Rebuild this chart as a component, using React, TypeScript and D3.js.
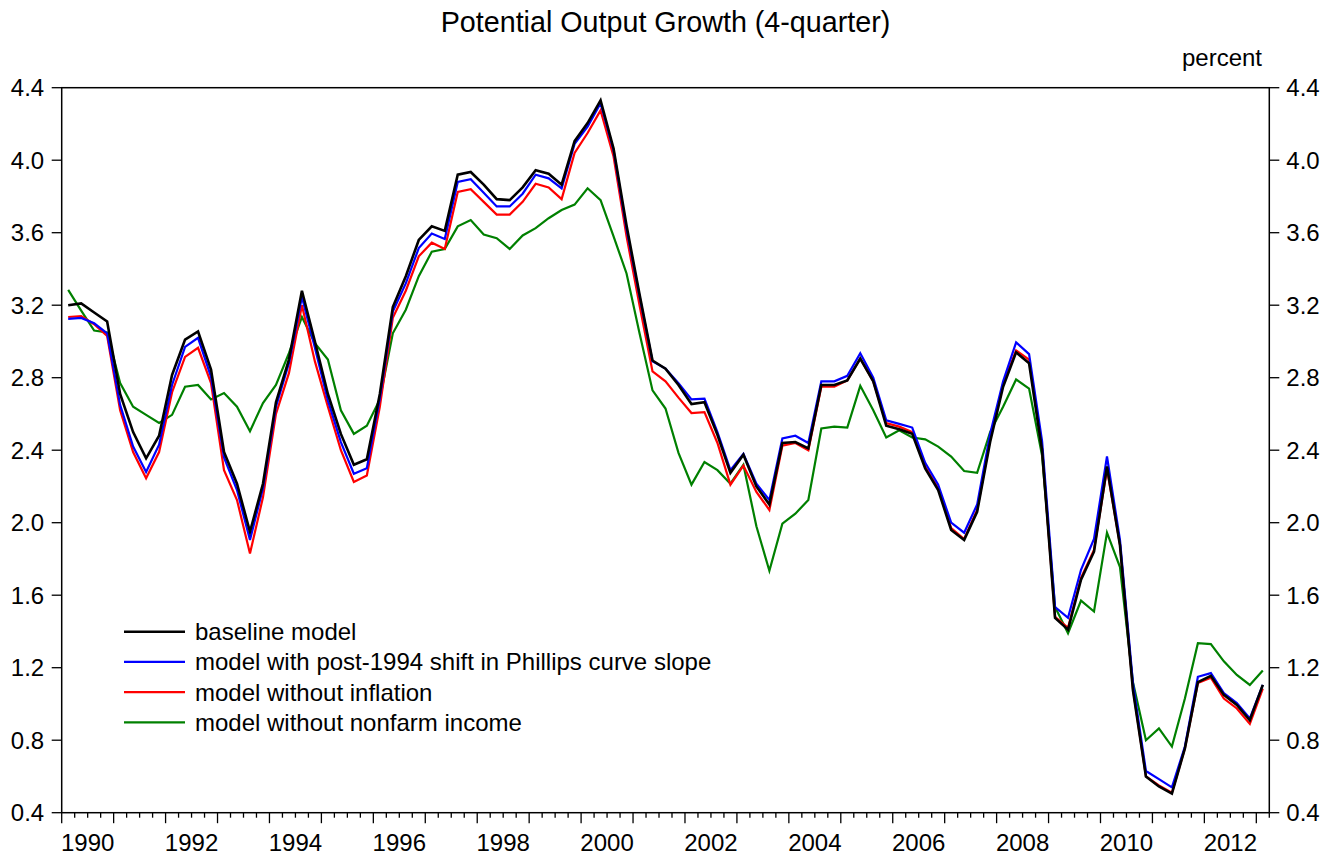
import React from "react";
import * as d3 from "d3";

const START_YEAR = 1990;
const N_SLOTS = 93;

const baseline = [
  3.20, 3.21, 3.16, 3.11, 2.71, 2.50, 2.355, 2.48, 2.815, 3.01, 3.055, 2.845,
  2.39, 2.215, 1.95, 2.215, 2.665, 2.90, 3.28, 3.00, 2.71, 2.49, 2.32, 2.35,
  2.71, 3.19, 3.36, 3.56, 3.635, 3.61, 3.92, 3.935, 3.865, 3.785, 3.78, 3.85,
  3.945, 3.925, 3.865, 4.105, 4.205, 4.33, 4.065, 3.64, 3.26, 2.895, 2.85, 2.76,
  2.655, 2.665, 2.485, 2.275, 2.375, 2.20, 2.10, 2.44, 2.445, 2.41, 2.76, 2.76,
  2.785, 2.905, 2.78, 2.535, 2.515, 2.49, 2.30, 2.18, 1.96, 1.905, 2.06, 2.445,
  2.75, 2.94, 2.88, 2.40, 1.475, 1.41, 1.685, 1.84, 2.31, 1.875, 1.075, 0.60,
  0.545, 0.505, 0.755, 1.12, 1.155, 1.05, 0.995, 0.91, 1.105,
];

const phillipsShift = [
  3.125, 3.13, 3.10, 3.045, 2.65, 2.42, 2.28, 2.43, 2.76, 2.97, 3.02, 2.805,
  2.36, 2.18, 1.905, 2.19, 2.64, 2.88, 3.245, 2.965, 2.675, 2.445, 2.27, 2.30,
  2.685, 3.165, 3.32, 3.515, 3.595, 3.565, 3.88, 3.895, 3.82, 3.745, 3.745, 3.815,
  3.92, 3.90, 3.845, 4.09, 4.185, 4.315, 4.055, 3.62, 3.25, 2.89, 2.85, 2.77,
  2.68, 2.685, 2.50, 2.29, 2.38, 2.215, 2.125, 2.465, 2.48, 2.44, 2.78, 2.78,
  2.81, 2.935, 2.80, 2.565, 2.545, 2.525, 2.33, 2.21, 2.00, 1.945, 2.10, 2.49,
  2.78, 2.995, 2.93, 2.45, 1.535, 1.475, 1.74, 1.91, 2.365, 1.905, 1.115, 0.63,
  0.585, 0.54, 0.765, 1.15, 1.17, 1.06, 1.005, 0.92, 1.105,
];

const noInflation = [
  3.135, 3.14, 3.095, 3.03, 2.62, 2.39, 2.245, 2.39, 2.72, 2.915, 2.965, 2.77,
  2.29, 2.125, 1.83, 2.14, 2.60, 2.825, 3.20, 2.89, 2.64, 2.40, 2.225, 2.26,
  2.64, 3.13, 3.28, 3.47, 3.545, 3.51, 3.825, 3.84, 3.77, 3.70, 3.70, 3.77,
  3.87, 3.85, 3.785, 4.04, 4.15, 4.275, 4.02, 3.58, 3.20, 2.835, 2.78, 2.69,
  2.605, 2.61, 2.44, 2.21, 2.315, 2.17, 2.07, 2.425, 2.44, 2.40, 2.75, 2.75,
  2.785, 2.905, 2.78, 2.55, 2.53, 2.50, 2.31, 2.19, 1.97, 1.91, 2.07, 2.46,
  2.765, 2.95, 2.90, 2.41, 1.48, 1.42, 1.695, 1.85, 2.295, 1.88, 1.085, 0.60,
  0.55, 0.51, 0.755, 1.115, 1.145, 1.03, 0.975, 0.89, 1.085,
];

const noNonfarm = [
  3.285, 3.17, 3.06, 3.05, 2.77, 2.64, 2.595, 2.55, 2.595, 2.75, 2.76, 2.68,
  2.715, 2.64, 2.505, 2.66, 2.76, 2.935, 3.135, 2.99, 2.90, 2.62, 2.49, 2.535,
  2.68, 3.045, 3.175, 3.36, 3.495, 3.51, 3.635, 3.67, 3.59, 3.57, 3.51, 3.585,
  3.625, 3.68, 3.725, 3.755, 3.845, 3.78, 3.58, 3.375, 3.045, 2.73, 2.63, 2.385,
  2.21, 2.335, 2.29, 2.215, 2.32, 1.98, 1.735, 1.995, 2.05, 2.125, 2.52, 2.53,
  2.525, 2.755, 2.62, 2.47, 2.51, 2.47, 2.46, 2.42, 2.365, 2.285, 2.275, 2.50,
  2.64, 2.79, 2.74, 2.37, 1.535, 1.39, 1.57, 1.51, 1.945, 1.755, 1.12, 0.80,
  0.865, 0.765, 1.03, 1.335, 1.33, 1.235, 1.16, 1.105, 1.185,
];

const yTicks = [0.4, 0.8, 1.2, 1.6, 2.0, 2.4, 2.8, 3.2, 3.6, 4.0, 4.4];
const yearLabels = [1990, 1992, 1994, 1996, 1998, 2000, 2002, 2004, 2006, 2008, 2010, 2012];

const seriesList = [
  { name: "baseline model", color: "#000000", width: 2.6, data: baseline },
  { name: "model with post-1994 shift in Phillips curve slope", color: "#0000ff", width: 2.2, data: phillipsShift },
  { name: "model without inflation", color: "#ff0000", width: 2.2, data: noInflation },
  { name: "model without nonfarm income", color: "#008000", width: 2.2, data: noNonfarm },
];

const FONT = "'Liberation Sans', Arial, Helvetica, sans-serif";

export default function App() {
  const W = 1338;
  const H = 857;
  const left = 61.7;
  const right = 1269.3;
  const top = 87.7;
  const bottom = 812.7;
  const fs = 24;

  const x = d3.scaleLinear().domain([0, N_SLOTS]).range([left, right]);
  const y = d3.scaleLinear().domain([0.4, 4.4]).range([bottom, top]);

  const line = d3
    .line<number>()
    .x((_, i) => x(i + 0.5))
    .y((d) => y(d));

  const quarterTicks = d3.range(0, N_SLOTS + 1);
  const drawOrder = [3, 2, 1, 0];

  return (
    <svg
      width={W}
      height={H}
      viewBox={`0 0 ${W} ${H}`}
      style={{ position: "absolute", left: 0, top: 0, background: "#fff" }}
      fontFamily={FONT}
    >
      <rect x={0} y={0} width={W} height={H} fill="#ffffff" />
      <text x={665.5} y={32} textAnchor="middle" fontSize={28.7} fill="#000">
        Potential Output Growth (4-quarter)
      </text>
      <text x={1262} y={66} textAnchor="end" fontSize={fs} fill="#000">
        percent
      </text>

      {/* y ticks & labels */}
      {yTicks.map((t) => (
        <g key={t}>
          <line x1={left - 10} x2={left} y1={y(t)} y2={y(t)} stroke="#000" strokeWidth={1.3} />
          <line x1={right} x2={right + 10} y1={y(t)} y2={y(t)} stroke="#000" strokeWidth={1.3} />
          <text x={left - 17.5} y={y(t) + 8.5} textAnchor="end" fontSize={fs} fill="#000">
            {t.toFixed(1)}
          </text>
          <text x={right + 17} y={y(t) + 8.5} textAnchor="start" fontSize={fs} fill="#000">
            {t.toFixed(1)}
          </text>
        </g>
      ))}

      {/* x ticks */}
      {quarterTicks.map((q) => (
        <line
          key={q}
          x1={x(q)}
          x2={x(q)}
          y1={bottom}
          y2={bottom + (q % 4 === 0 ? 10.5 : 5)}
          stroke="#000"
          strokeWidth={1.3}
        />
      ))}
      {yearLabels.map((yr) => (
        <text
          key={yr}
          x={x((yr - START_YEAR) * 4 + 2)}
          y={851}
          textAnchor="middle"
          fontSize={fs}
          fill="#000"
        >
          {yr}
        </text>
      ))}

      {/* series */}
      {drawOrder.map((k) => {
        const s = seriesList[k];
        return (
          <path
            key={s.name}
            d={line(s.data) || ""}
            fill="none"
            stroke={s.color}
            strokeWidth={s.width}
            strokeLinejoin="miter"
          />
        );
      })}

      {/* frame */}
      <rect
        x={left}
        y={top}
        width={right - left}
        height={bottom - top}
        fill="none"
        stroke="#000"
        strokeWidth={1.5}
      />

      {/* legend */}
      {seriesList.map((s, i) => {
        const ly = 631.7 + i * 30.2;
        return (
          <g key={s.name}>
            <line x1={124} x2={185} y1={ly} y2={ly} stroke={s.color} strokeWidth={s.width} />
            <text x={195} y={ly + 8.5} fontSize={fs} fill="#000">
              {s.name}
            </text>
          </g>
        );
      })}
    </svg>
  );
}
